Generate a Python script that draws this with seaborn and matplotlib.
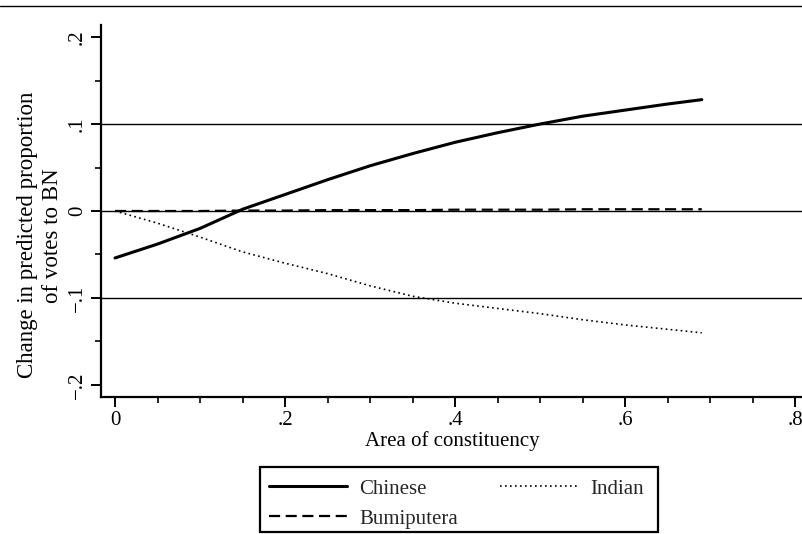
import numpy as np
import pandas as pd
import matplotlib
matplotlib.use("Agg")
import matplotlib.pyplot as plt
from matplotlib.lines import Line2D
from matplotlib.patches import Rectangle
from matplotlib.ticker import MultipleLocator, FixedLocator
import seaborn as sns

sns.set_theme(style="white")
plt.rcParams['font.family'] = ['Liberation Serif', 'DejaVu Serif']

area = [0.0, 0.05, 0.10, 0.15, 0.20, 0.25, 0.30, 0.35, 0.40, 0.45, 0.50, 0.55, 0.60, 0.65, 0.69]
chinese = [-0.054, -0.038, -0.020, 0.002, 0.019, 0.036, 0.052, 0.066, 0.079, 0.090, 0.100, 0.109, 0.116, 0.123, 0.128]
indian = [0.000, -0.014, -0.030, -0.047, -0.060, -0.072, -0.086, -0.098, -0.106, -0.112, -0.118, -0.125, -0.131, -0.136, -0.140]
bumiputera = [0.000, 0.000, 0.000, 0.0005, 0.0005, 0.001, 0.001, 0.001, 0.0015, 0.0015, 0.0015, 0.002, 0.002, 0.002, 0.002]

x_ticks = [0, 0.2, 0.4, 0.6, 0.8]
x_ticklabels = ["0", ".2", ".4", ".6", ".8"]
y_ticks = [-0.2, -0.1, 0, 0.1, 0.2]
y_ticklabels = ["\u2212.2", "\u2212.1", "0", ".1", ".2"]

fig = plt.figure(figsize=(8.03, 5.34), dpi=100)
ax = fig.add_axes([101/803, 1-397/534, 1-101/803, 372/534])

for yv in [-0.1, 0, 0.1]:
    ax.axhline(yv, color="black", lw=1.0, zorder=1)

sns.lineplot(x=area, y=chinese, ax=ax, color="black", lw=2.2, linestyle="-", label="Chinese", zorder=3)
sns.lineplot(x=area, y=bumiputera, ax=ax, color="black", lw=1.6, linestyle=(0, (5, 2.5)), label="Bumiputera", zorder=3)
sns.lineplot(x=area, y=indian, ax=ax, color="black", lw=1.2, linestyle=(0, (1, 2)), label="Indian", zorder=3)

ax.set_xlim(-0.0165, 0.809)
ax.set_ylim(-0.2138, 0.2138)

for s in ["top", "right"]:
    ax.spines[s].set_visible(False)
for s in ["left", "bottom"]:
    ax.spines[s].set_color("black")
    ax.spines[s].set_linewidth(1.6)

ax.xaxis.set_major_locator(FixedLocator(x_ticks))
ax.set_xticklabels(x_ticklabels)
ax.xaxis.set_minor_locator(MultipleLocator(0.05))
ax.yaxis.set_major_locator(FixedLocator(y_ticks))
ax.set_yticklabels(y_ticklabels, rotation=90, va="center")
ax.yaxis.set_minor_locator(MultipleLocator(0.05))
ax.tick_params(axis="both", which="major", direction="out", length=7, width=1.4, colors="black", labelsize=15, pad=3, left=True, bottom=True)
ax.tick_params(axis="both", which="minor", direction="out", length=4, width=1.2, colors="black", left=True, bottom=True)
ax.grid(False)

ax.set_xlabel("Area of constituency", fontsize=15, color="black", labelpad=1)
ax.set_ylabel("Change in predicted proportion\nof votes to BN", fontsize=16.5, color="black", linespacing=1.25)
ax.yaxis.set_label_coords(-0.054, 0.435)

handles, labels = ax.get_legend_handles_labels()
order = [labels.index("Chinese"), labels.index("Bumiputera"), labels.index("Indian")]
leg = ax.legend([handles[i] for i in order], [labels[i] for i in order], ncol=2,
                loc="upper left", bbox_to_anchor=(269/803, 1-479/534),
                bbox_transform=fig.transFigure, borderaxespad=0,
                frameon=False, fontsize=15,
                handlelength=3.75, columnspacing=2.0, borderpad=0.0, labelspacing=0.5, handletextpad=0.6)

fig.add_artist(Rectangle((260/803, 1-532/534), 398/803, 65/534, transform=fig.transFigure,
                         fill=False, edgecolor="black", lw=1.6))
fig.add_artist(Line2D([0, 1], [1-6/534, 1-6/534], transform=fig.transFigure, color="black", lw=1.0))

fig.savefig("out.png", dpi=100, facecolor="white")
